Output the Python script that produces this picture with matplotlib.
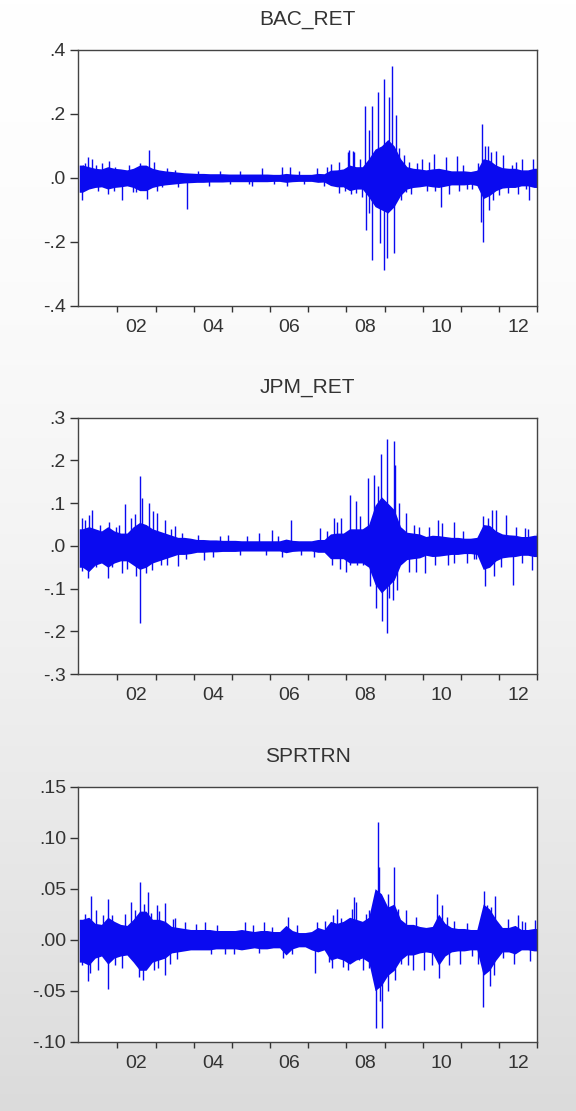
import numpy as np
import matplotlib
matplotlib.use("Agg")
import matplotlib.pyplot as plt

plt.rcParams['font.family'] = ['Liberation Sans', 'DejaVu Sans']

titles = ["BAC_RET", "JPM_RET", "SPRTRN"]
start_year = 2001
years_shown = ["02", "04", "06", "08", "10", "12"]

# core band, two-month blocks (JF, MA, MJ, JA, SO, ND), 2001..2012
bac_hi = [.040, .035, .030, .028, .035, .030,
          .028, .025, .030, .040, .040, .030,
          .025, .022, .020, .018, .016, .015,
          .014, .014, .013, .013, .013, .012,
          .012, .012, .012, .012, .012, .012,
          .011, .011, .014, .012, .011, .011,
          .011, .014, .013, .024, .025, .028,
          .040, .035, .035, .060, .090, .100,
          .120, .100, .060, .035, .030, .028,
          .025, .028, .030, .026, .022, .022,
          .022, .020, .024, .060, .055, .040,
          .032, .030, .030, .025, .025, .030]
bac_lo = [-.045, -.035, -.030, -.028, -.035, -.030,
          -.028, -.025, -.030, -.040, -.040, -.030,
          -.025, -.022, -.020, -.018, -.016, -.015,
          -.014, -.014, -.013, -.013, -.013, -.012,
          -.012, -.012, -.012, -.012, -.012, -.012,
          -.011, -.011, -.014, -.012, -.011, -.011,
          -.011, -.014, -.013, -.024, -.028, -.028,
          -.040, -.035, -.035, -.060, -.090, -.100,
          -.110, -.090, -.055, -.035, -.030, -.028,
          -.025, -.028, -.030, -.026, -.022, -.022,
          -.022, -.020, -.024, -.065, -.055, -.040,
          -.032, -.030, -.030, -.025, -.025, -.030]

jpm_hi = [.040, .045, .040, .035, .045, .035,
          .030, .030, .045, .055, .050, .040,
          .035, .030, .025, .020, .020, .018,
          .015, .015, .014, .014, .013, .013,
          .013, .012, .012, .012, .012, .012,
          .012, .012, .016, .013, .012, .012,
          .012, .015, .015, .028, .030, .030,
          .040, .040, .040, .050, .095, .115,
          .100, .085, .045, .032, .030, .028,
          .022, .025, .024, .022, .020, .020,
          .018, .018, .020, .050, .048, .035,
          .028, .026, .025, .022, .022, .025]
jpm_lo = [-.050, -.060, -.045, -.040, -.050, -.040,
          -.035, -.035, -.045, -.055, -.050, -.040,
          -.035, -.030, -.025, -.020, -.020, -.018,
          -.015, -.015, -.014, -.014, -.013, -.013,
          -.013, -.012, -.012, -.012, -.012, -.012,
          -.012, -.012, -.016, -.013, -.012, -.012,
          -.012, -.015, -.015, -.030, -.030, -.030,
          -.040, -.040, -.040, -.050, -.090, -.110,
          -.095, -.080, -.045, -.032, -.030, -.028,
          -.022, -.025, -.024, -.022, -.020, -.020,
          -.018, -.018, -.020, -.055, -.050, -.035,
          -.028, -.026, -.025, -.022, -.022, -.025]

spx_hi = [.020, .022, .016, .015, .022, .018,
          .015, .014, .020, .028, .028, .020,
          .020, .018, .013, .012, .011, .010,
          .010, .010, .010, .009, .009, .009,
          .009, .010, .009, .008, .009, .009,
          .008, .008, .014, .009, .007, .007,
          .008, .012, .010, .018, .016, .018,
          .022, .020, .018, .022, .050, .045,
          .032, .035, .020, .015, .015, .013,
          .012, .013, .025, .016, .012, .011,
          .011, .010, .010, .035, .030, .020,
          .012, .012, .014, .010, .010, .011]
spx_lo = [-.022, -.025, -.018, -.016, -.024, -.018,
          -.016, -.015, -.022, -.030, -.030, -.022,
          -.020, -.018, -.013, -.012, -.011, -.010,
          -.010, -.010, -.010, -.009, -.009, -.009,
          -.009, -.010, -.009, -.008, -.009, -.009,
          -.008, -.008, -.015, -.009, -.007, -.007,
          -.010, -.012, -.010, -.020, -.018, -.020,
          -.024, -.020, -.018, -.022, -.050, -.045,
          -.035, -.030, -.020, -.015, -.015, -.013,
          -.012, -.013, -.025, -.016, -.012, -.011,
          -.011, -.010, -.010, -.035, -.030, -.020,
          -.012, -.012, -.014, -.010, -.010, -.011]

# single-day spikes: (date as year fraction, return)
bac_spikes = [(2001.07, -.070), (2001.09, .040), (2001.24, .066), (2001.33, .060),
              (2001.43, .040), (2001.78, .054), (2001.76, -.050), (2002.11, -.070),
              (2001.95, .035), (2002.60, .045), (2002.83, .087), (2002.78, -.067),
              (2002.48, -.043), (2003.17, -.030), (2003.83, -.098), (2005.52, -.025),
              (2005.78, .030), (2006.30, .033), (2006.52, .035), (2006.43, -.025),
              (2007.22, .030), (2007.60, .043), (2007.81, .050), (2007.81, -.048),
              (2008.03, .082), (2008.08, .087), (2008.12, -.050), (2008.18, .085),
              (2008.21, .080), (2008.26, -.046), (2008.49, .225), (2008.50, -.163),
              (2008.60, .150), (2008.60, -.110), (2008.67, .225), (2008.68, -.257),
              (2008.84, .270), (2008.87, -.204), (2008.99, .310), (2008.99, -.288),
              (2009.07, -.251), (2009.12, .254), (2009.20, .350), (2009.25, -.236),
              (2009.29, .197), (2009.38, .093), (2009.42, -.070), (2009.50, .070),
              (2009.55, -.045), (2009.99, .060), (2010.30, .075), (2010.32, -.040),
              (2010.49, -.090), (2010.62, .065), (2010.90, .068), (2010.95, -.040),
              (2011.15, -.035), (2011.45, .045), (2011.55, .168), (2011.53, -.137),
              (2011.58, -.200), (2011.63, .100), (2011.70, .100), (2011.74, -.100),
              (2011.80, .080), (2011.92, .085), (2012.10, .070), (2012.22, -.048),
              (2012.35, .040), (2012.60, .060), (2012.78, -.070), (2012.90, .060),
              (2012.70, -.035)]
bac_small = [(2001.15, .045), (2001.50, -.040), (2001.60, .045), (2001.90, -.040),
             (2002.30, .040), (2002.40, -.045), (2002.95, .050), (2003.05, -.040),
             (2003.30, .030), (2003.50, .025), (2003.60, -.030), (2004.10, .022),
             (2004.40, -.025), (2004.70, .020), (2004.95, -.020), (2005.20, .020),
             (2005.45, -.020), (2006.10, -.020), (2006.75, .022), (2006.90, -.020),
             (2007.40, -.025), (2007.50, .035), (2007.95, -.040), (2008.35, .060),
             (2008.40, -.060), (2009.65, .050), (2009.70, -.050), (2009.85, .045),
             (2010.10, -.040), (2010.15, .050), (2010.70, -.050), (2011.05, .040),
             (2011.30, -.035), (2011.85, -.070), (2012.00, -.055), (2012.45, .050),
             (2012.50, -.050)]

jpm_spikes = [(2001.07, .065), (2001.07, -.058), (2001.26, .073), (2001.33, .085),
              (2001.22, -.075), (2001.77, .057), (2001.76, -.074), (2001.96, .045),
              (2002.11, -.064), (2002.19, .097), (2002.35, .065), (2002.46, .075),
              (2002.50, -.071), (2002.58, .163), (2002.58, -.180), (2002.65, .112),
              (2002.74, -.064), (2002.83, .100), (2002.93, .081), (2002.90, -.056),
              (2003.04, .077), (2003.24, .060), (2003.30, -.045), (2003.52, .046),
              (2003.58, -.048), (2003.70, .030), (2004.28, -.032), (2004.91, .026),
              (2005.70, .030), (2006.04, .037), (2006.54, .060), (2006.30, -.025),
              (2007.30, .042), (2007.68, .065), (2007.61, -.044), (2007.74, .057),
              (2007.87, .065), (2007.84, -.053), (2008.10, .120), (2008.10, -.044),
              (2008.26, .104), (2008.28, -.044), (2008.43, -.044), (2008.56, .159),
              (2008.62, -.095), (2008.73, .167), (2008.78, -.146), (2008.82, .140),
              (2008.90, .215), (2008.92, -.175), (2009.05, .251), (2009.05, -.204),
              (2009.12, -.122), (2009.21, -.126), (2009.24, .246), (2009.27, .190),
              (2009.32, -.103), (2009.38, .100), (2009.56, .077), (2009.78, .050),
              (2009.82, -.060), (2010.05, -.063), (2010.31, -.044), (2010.39, .061),
              (2010.50, .054), (2010.81, .057), (2010.81, -.040), (2011.16, -.040),
              (2011.33, -.030), (2011.52, .034), (2011.59, .069), (2011.62, -.095),
              (2011.72, .065), (2011.82, .085), (2011.86, -.070), (2011.92, .085),
              (2012.18, .073), (2012.37, -.091), (2012.45, .045), (2012.67, .041),
              (2012.85, -.056), (2012.98, .030)]
jpm_small = [(2001.15, .060), (2001.45, -.050), (2001.55, .050), (2001.85, -.050),
             (2002.05, .050), (2002.25, -.055), (2003.15, -.045), (2003.40, .040),
             (2003.80, -.030), (2004.10, .025), (2004.50, -.025), (2004.70, .022),
             (2005.20, -.022), (2005.40, .022), (2005.90, -.022), (2006.20, .022),
             (2006.80, -.022), (2007.15, -.025), (2007.50, .035), (2008.00, -.060),
             (2008.35, .070), (2009.65, -.060), (2009.90, .045), (2010.15, .045),
             (2010.65, -.045), (2011.05, .035), (2011.40, -.030), (2012.05, -.050),
             (2012.60, -.040), (2012.75, .040)]

spx_spikes = [(2001.07, -.025), (2001.22, -.041), (2001.30, .043), (2001.28, -.033),
              (2001.43, .029), (2001.61, .024), (2001.76, .040), (2001.76, -.048),
              (2001.87, .024), (2002.11, -.028), (2002.35, .037), (2002.46, .029),
              (2002.58, .057), (2002.57, -.037), (2002.68, -.040), (2002.81, .047),
              (2002.87, .026), (2003.04, .034), (2003.06, -.028), (2003.24, .036),
              (2003.26, -.035), (2003.39, -.024), (2003.52, .021), (2003.57, -.019),
              (2003.77, .017), (2004.30, .017), (2004.83, -.014), (2005.35, .017),
              (2005.83, .017), (2006.48, .022), (2006.57, -.014), (2006.70, .014),
              (2007.17, -.033), (2007.22, .017), (2007.62, -.028), (2007.65, .024),
              (2007.74, .030), (2007.87, .021), (2007.91, -.027), (2008.21, .042),
              (2008.26, .037), (2008.34, -.020), (2008.43, -.030), (2008.60, .029),
              (2008.60, -.028), (2008.78, -.087), (2008.82, .115), (2008.86, .071),
              (2008.93, -.087), (2008.88, -.060), (2009.08, .045), (2009.08, -.050),
              (2009.24, .071), (2009.27, -.040), (2009.42, -.024), (2009.55, .029),
              (2009.75, -.030), (2009.82, .022), (2010.03, -.030), (2010.38, .045),
              (2010.42, -.038), (2010.51, .034), (2010.63, .022), (2010.82, .018),
              (2010.97, -.024), (2011.45, -.024), (2011.60, .048), (2011.59, -.066),
              (2011.67, .034), (2011.80, .032), (2011.89, .043), (2011.86, -.035),
              (2012.22, .020), (2012.40, -.024), (2012.49, .024), (2012.68, .017),
              (2012.80, -.021), (2012.93, .019), (2012.98, -.010)]
spx_small = [(2001.15, .025), (2001.50, -.030), (2001.95, -.025), (2002.20, .025),
             (2002.70, .035), (2002.95, -.030), (2003.10, .028), (2003.45, .020),
             (2004.05, .015), (2004.45, -.014), (2004.60, .014), (2005.05, -.014),
             (2005.55, .014), (2005.70, -.013), (2006.05, .012), (2006.35, -.018),
             (2007.45, .018), (2007.55, -.022), (2008.05, -.030), (2008.15, .030),
             (2008.50, .025), (2009.35, .030), (2009.60, -.025), (2010.25, -.025),
             (2010.70, -.025), (2011.15, .016), (2011.30, -.016), (2011.75, -.045),
             (2012.10, -.018), (2012.60, .018)]

ylims = [(-0.4, 0.4), (-0.3, 0.3), (-0.10, 0.15)]
yticks = [[-0.4, -0.2, 0.0, 0.2, 0.4],
          [-0.3, -0.2, -0.1, 0.0, 0.1, 0.2, 0.3],
          [-0.10, -0.05, 0.0, 0.05, 0.10, 0.15]]
ytick_labels = [["-.4", "-.2", ".0", ".2", ".4"],
                ["-.3", "-.2", "-.1", ".0", ".1", ".2", ".3"],
                ["-.10", "-.05", ".00", ".05", ".10", ".15"]]

his = [bac_hi, jpm_hi, spx_hi]
los = [bac_lo, jpm_lo, spx_lo]
spikes = [bac_spikes + bac_small, jpm_spikes + jpm_small, spx_spikes + spx_small]

fig = plt.figure(figsize=(5.76, 11.11), dpi=100)

# grey gradient background
bg = fig.add_axes([0, 0, 1, 1], zorder=-10)
grad = np.linspace(1.0, 0.0, 256).reshape(-1, 1)
shade = 1.0 - 0.14 * (1 - grad) ** 1.6
bg.imshow(np.dstack([shade, shade, shade]), aspect='auto', extent=[0, 1, 0, 1])
bg.axis('off')

positions = [[0.1349, 0.7248, 0.7979, 0.2302],
             [0.1349, 0.3933, 0.7979, 0.2307],
             [0.1349, 0.0624, 0.7979, 0.2295]]

blue = "#0a0af0"
x_core = start_year + (np.arange(72) + 0.5) / 6.0

for i in range(3):
    ax = fig.add_axes(positions[i])
    ax.set_facecolor("white")
    hi = np.array(his[i])
    lo = np.array(los[i])
    xc = np.concatenate([[start_year], x_core, [start_year + 12]])
    hc = np.concatenate([[hi[0]], hi, [hi[-1]]])
    lc = np.concatenate([[lo[0]], lo, [lo[-1]]])
    ax.fill_between(xc, lc, hc, color=blue, lw=0)
    sx = [s[0] for s in spikes[i]]
    sy = [s[1] for s in spikes[i]]
    ax.vlines(sx, 0, sy, colors=blue, lw=1.0)

    ax.set_xlim(start_year - 0.04, start_year + 12.0)
    ax.set_ylim(*ylims[i])
    ax.set_yticks(yticks[i])
    ax.set_yticklabels(ytick_labels[i])
    ax.set_xticks(np.arange(2002, 2014))
    ax.set_xticklabels([])
    ax.set_xticks([int("20" + y) + 0.5 for y in years_shown], minor=True)
    ax.set_xticklabels(years_shown, minor=True)
    ax.tick_params(axis='x', which='major', direction='out', length=4.5, width=1, color="#333333")
    ax.tick_params(axis='x', which='minor', length=0, pad=9.5, labelsize=14, labelcolor="#333333")
    ax.tick_params(axis='y', direction='out', length=5.5, width=1, color="#333333",
                   labelsize=14, labelcolor="#333333", pad=3)
    for sp in ax.spines.values():
        sp.set_color("#444444")
        sp.set_linewidth(1.0)
    ax.set_title(titles[i], fontsize=15, color="#333333", pad=18)

fig.savefig("out.png", dpi=100)
